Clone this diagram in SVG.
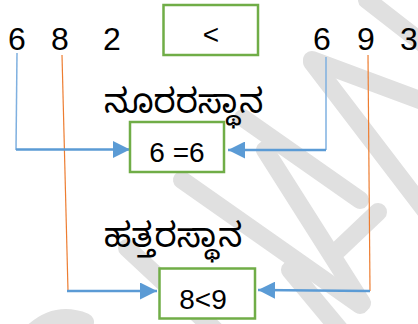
<svg xmlns="http://www.w3.org/2000/svg" width="418" height="324" viewBox="0 0 418 324">
<style>
.wm{fill:none;stroke:#e0e0e0;stroke-width:18;stroke-linecap:round}
.box{fill:#fff;stroke:#70ad47;stroke-width:2.5}
.num{font-family:"Liberation Sans",Arial,sans-serif;fill:#000}
.kn{font-family:"Noto Sans Kannada","Noto Sans","Lohit Kannada",sans-serif;font-size:34px;fill:#000}
.vb{stroke:#7fb0e0;stroke-width:1.5;fill:none}
.vo{stroke:#ed7d31;stroke-width:1.2;fill:none}
.hb{stroke:#5b9bd5;stroke-width:2.5;fill:none}
</style>
<defs>
<marker id="ah" viewBox="0 0 10 10" refX="10" refY="5" markerWidth="17" markerHeight="17" markerUnits="userSpaceOnUse" orient="auto">
<path d="M0,0 L10,5 L0,10 z" fill="#5b9bd5"/>
</marker>
</defs>
<g id="watermark">
<line class="wm" x1="367" y1="0" x2="425" y2="45"/>
<line class="wm" x1="312" y1="60" x2="425" y2="102"/>
<line class="wm" x1="312" y1="62" x2="425" y2="210"/>
<line class="wm" x1="243" y1="118" x2="360" y2="200"/>
<line class="wm" x1="182" y1="180" x2="360" y2="305"/>
<line class="wm" x1="265" y1="150" x2="362" y2="303"/>
<line class="wm" x1="378" y1="212" x2="338" y2="250"/>
<line class="wm" x1="127" y1="248" x2="215" y2="330"/>
<line class="wm" x1="290" y1="270" x2="340" y2="330"/>
<path class="wm" d="M30,335 Q55,310 85,322"/>
</g>
<g id="connectors">
<polyline class="vb" points="17,53 16,150"/>
<polyline class="vb" points="326,57 326,150"/>
<polyline class="vo" points="62,55 68,291"/>
<polyline class="vo" points="368,55 370,291"/>
<line class="hb" x1="16" y1="149.5" x2="130" y2="149.5" marker-end="url(#ah)"/>
<line class="hb" x1="326" y1="150" x2="228" y2="150" marker-end="url(#ah)"/>
<line class="hb" x1="67" y1="291" x2="157" y2="291" marker-end="url(#ah)"/>
<line class="hb" x1="370" y1="291" x2="258" y2="290" marker-end="url(#ah)"/>
</g>
<g id="left-number">
<text class="num" x="17" y="50" font-size="32" text-anchor="middle">6</text>
<text class="num" x="60" y="50" font-size="32" text-anchor="middle">8</text>
<text class="num" x="112" y="50" font-size="32" text-anchor="middle">2</text>
</g>
<g id="right-number">
<text class="num" x="322" y="50" font-size="32" text-anchor="middle">6</text>
<text class="num" x="366" y="50" font-size="32" text-anchor="middle">9</text>
<text class="num" x="409" y="50" font-size="32" text-anchor="middle">3</text>
</g>
<g id="compare-box">
<rect class="box" x="163.5" y="5" width="94.5" height="50"/>
<text class="num" x="211" y="44" font-size="28" text-anchor="middle">&lt;</text>
</g>
<g id="label-hundreds">
<text class="kn" x="104" y="113">ನೂರರಸ್ಥಾನ</text>
</g>
<g id="box-hundreds">
<rect class="box" x="130" y="122" width="94" height="50"/>
<text class="num" x="177" y="162" font-size="28" text-anchor="middle">6 =6</text>
</g>
<g id="label-tens">
<text class="kn" x="104" y="247">ಹತ್ತರಸ್ಥಾನ</text>
</g>
<g id="box-tens">
<rect class="box" x="159.5" y="268.5" width="95.5" height="50"/>
<text class="num" x="203" y="309" font-size="28" text-anchor="middle">8&lt;9</text>
</g>
</svg>
